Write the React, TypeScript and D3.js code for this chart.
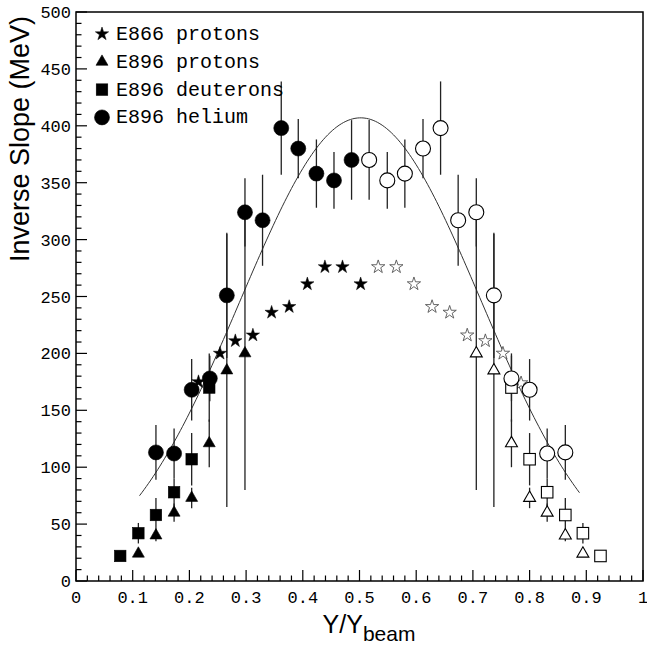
import React from "react";
import * as d3 from "d3";

// ---- data: inverse slope parameter (MeV) vs normalised rapidity ----
// E866 protons (measured, filled) and reflected about mid-rapidity (open)
const e866X = [0.216, 0.254, 0.281, 0.312, 0.345, 0.376, 0.408, 0.439, 0.47, 0.502];
const e866T = [175, 200, 211, 216, 236, 241, 261, 276, 276, 261];
const e866ReflX = [0.533, 0.565, 0.596, 0.628, 0.659, 0.69, 0.722, 0.753, 0.785];
const e866ReflT = [276, 276, 261, 241, 236, 216, 211, 200, 174];

// E896 protons
const protonX = [0.11, 0.141, 0.173, 0.204, 0.235, 0.266, 0.298];
const protonT = [24, 40, 60, 73, 121, 185, 200];
const protonErr = [0, 5, 8, 9, 21, 120, 120];
const protonReflX = [0.706, 0.737, 0.768, 0.8, 0.831, 0.863, 0.894];
const protonReflT = [200, 185, 121, 73, 60, 40, 24];
const protonReflErr = [120, 120, 21, 9, 8, 5, 0];

// E896 deuterons
const deuteronX = [0.078, 0.11, 0.141, 0.173, 0.204, 0.235];
const deuteronT = [22, 42, 58, 78, 107, 170];
const deuteronErr = [0, 9, 15, 12, 23, 30];
const deuteronReflX = [0.768, 0.8, 0.831, 0.863, 0.894, 0.925];
const deuteronReflT = [170, 107, 78, 58, 42, 22];
const deuteronReflErr = [30, 23, 12, 15, 9, 0];

// E896 helium
const heliumX = [0.141, 0.173, 0.204, 0.236, 0.266, 0.298, 0.329, 0.362, 0.392, 0.424, 0.455, 0.486];
const heliumT = [113, 112, 168, 178, 251, 324, 317, 398, 380, 358, 352, 370];
const heliumErr = [24, 22, 27, 20, 55, 30, 40, 41, 26, 30, 25, 35];
const heliumReflX = [0.517, 0.549, 0.58, 0.612, 0.643, 0.674, 0.706, 0.737, 0.768, 0.8, 0.831, 0.863];
const heliumReflT = [370, 352, 358, 380, 398, 317, 324, 251, 178, 168, 112, 113];
const heliumReflErr = [35, 25, 30, 26, 41, 40, 30, 55, 20, 27, 22, 24];

// Gaussian fit to the helium slopes
const fitAmplitude = 407;
const fitCenter = 0.502;
const fitSigma = 0.212;
const fitRange = [0.112, 0.888];

const xTicks = [0, 0.1, 0.2, 0.3, 0.4, 0.5, 0.6, 0.7, 0.8, 0.9, 1];
const xTickLabels = ["0", "0.1", "0.2", "0.3", "0.4", "0.5", "0.6", "0.7", "0.8", "0.9", "1"];
const yTicks = [0, 50, 100, 150, 200, 250, 300, 350, 400, 450, 500];

const legendLabels = ["E866 protons", "E896 protons", "E896 deuterons", "E896 helium"];
const legendShapes = ["star", "triangle", "square", "circle"];

const W = 647;
const H = 650;
const left = 76, right = 643, top = 12, bottom = 581;

const x = d3.scaleLinear().domain([0, 1]).range([left, right]);
const y = d3.scaleLinear().domain([0, 500]).range([bottom, top]);

const starPath = d3.symbol(d3.symbolStar, 55)()!;
const triPath = d3.symbol(d3.symbolTriangle, 62)()!;
const SQ = 11.5;
const CR = 7.5;

const mono = "'Liberation Mono', 'DejaVu Sans Mono', monospace";
const sans = "'Liberation Sans', Arial, sans-serif";

function Marker({ shape, cx, cy, open }: { shape: string; cx: number; cy: number; open?: boolean }) {
  const fill = open ? "#fff" : "#000";
  const stroke = "#000";
  const sw = open ? 1.1 : 0.6;
  if (shape === "star")
    return <path d={starPath} transform={`translate(${cx},${cy})`} fill={fill} stroke={open ? "#555" : "#000"} strokeWidth={open ? 0.9 : 0.5} />;
  if (shape === "triangle")
    return <path d={triPath} transform={`translate(${cx},${cy})`} fill={fill} stroke={stroke} strokeWidth={sw} />;
  if (shape === "square")
    return <rect x={cx - SQ / 2} y={cy - SQ / 2} width={SQ} height={SQ} fill={fill} stroke={stroke} strokeWidth={sw} />;
  return <circle cx={cx} cy={cy} r={CR} fill={fill} stroke={stroke} strokeWidth={sw} />;
}

function ErrorBars({ xs, ts, errs }: { xs: number[]; ts: number[]; errs: number[] }) {
  return (
    <g stroke="#222" strokeWidth={1.3}>
      {xs.map((v, i) =>
        errs[i] > 0 ? (
          <line key={i} x1={x(v)} x2={x(v)} y1={y(ts[i] - errs[i])} y2={y(Math.min(500, ts[i] + errs[i]))} />
        ) : null
      )}
    </g>
  );
}

function Series({ xs, ts, shape, open }: { xs: number[]; ts: number[]; shape: string; open?: boolean }) {
  return (
    <g>
      {xs.map((v, i) => (
        <Marker key={i} shape={shape} cx={x(v)} cy={y(ts[i])} open={open} />
      ))}
    </g>
  );
}

export default function App() {
  const fitXs = d3.range(fitRange[0], fitRange[1] + 1e-9, 0.004);
  const fitLine = d3
    .line<number>()
    .x((v) => x(v))
    .y((v) => y(fitAmplitude * Math.exp(-((v - fitCenter) ** 2) / (2 * fitSigma * fitSigma))))(fitXs)!;

  const xMinor = d3.range(0, 1.0001, 0.02);
  const yMinor = d3.range(0, 500.01, 10);

  return (
    <svg width={W} height={H} style={{ position: "absolute", left: 0, top: 0, background: "#fff" }}>
      <rect x={0} y={0} width={W} height={H} fill="#fff" />
      {/* frame */}
      <rect x={left} y={top} width={right - left} height={bottom - top} fill="none" stroke="#000" strokeWidth={1.5} />
      {/* ticks */}
      <g stroke="#000" strokeWidth={1.2}>
        {xMinor.map((v, i) => {
          const major = Math.abs(v * 10 - Math.round(v * 10)) < 1e-6;
          return <line key={i} x1={x(v)} x2={x(v)} y1={bottom} y2={bottom - (major ? 11 : 5.5)} />;
        })}
        {yMinor.map((v, i) => {
          const major = v % 50 === 0;
          return <line key={i} x1={left} x2={left + (major ? 11 : 5.5)} y1={y(v)} y2={y(v)} />;
        })}
      </g>
      <g fontFamily={mono} fontSize={17} fill="#000">
        {xTicks.map((v, i) => (
          <text key={i} x={x(v)} y={603} textAnchor="middle">
            {xTickLabels[i]}
          </text>
        ))}
        {yTicks.map((v) => (
          <text key={v} x={71} y={y(v) + 6} textAnchor="end">
            {v}
          </text>
        ))}
      </g>

      {/* axis titles */}
      <text
        transform={`translate(29,139) rotate(-90)`}
        textAnchor="middle"
        fontFamily={sans}
        fontSize={27}
        fill="#000"
      >
        Inverse Slope (MeV)
      </text>
      <text x={369} y={633} textAnchor="middle" fontFamily={sans} fontSize={25} fill="#000">
        Y/Y
        <tspan fontSize={21} dy={8}>
          beam
        </tspan>
      </text>

      {/* fit */}
      <path d={fitLine} fill="none" stroke="#333" strokeWidth={1} />

      {/* error bars */}
      <ErrorBars xs={protonX} ts={protonT} errs={protonErr} />
      <ErrorBars xs={protonReflX} ts={protonReflT} errs={protonReflErr} />
      <ErrorBars xs={deuteronX} ts={deuteronT} errs={deuteronErr} />
      <ErrorBars xs={deuteronReflX} ts={deuteronReflT} errs={deuteronReflErr} />
      <ErrorBars xs={heliumX} ts={heliumT} errs={heliumErr} />
      <ErrorBars xs={heliumReflX} ts={heliumReflT} errs={heliumReflErr} />

      {/* markers */}
      <Series xs={e866X} ts={e866T} shape="star" />
      <Series xs={e866ReflX} ts={e866ReflT} shape="star" open />
      <Series xs={protonX} ts={protonT} shape="triangle" />
      <Series xs={protonReflX} ts={protonReflT} shape="triangle" open />
      <Series xs={deuteronX} ts={deuteronT} shape="square" />
      <Series xs={deuteronReflX} ts={deuteronReflT} shape="square" open />
      <Series xs={heliumX} ts={heliumT} shape="circle" />
      <Series xs={heliumReflX} ts={heliumReflT} shape="circle" open />

      {/* legend */}
      <g>
        {legendLabels.map((lab, i) => (
          <g key={lab}>
            <Marker shape={legendShapes[i]} cx={102} cy={34 + i * 27.8} />
            <text x={116} y={40 + i * 27.8} fontFamily={mono} fontSize={20} fill="#000">
              {lab}
            </text>
          </g>
        ))}
      </g>
    </svg>
  );
}
